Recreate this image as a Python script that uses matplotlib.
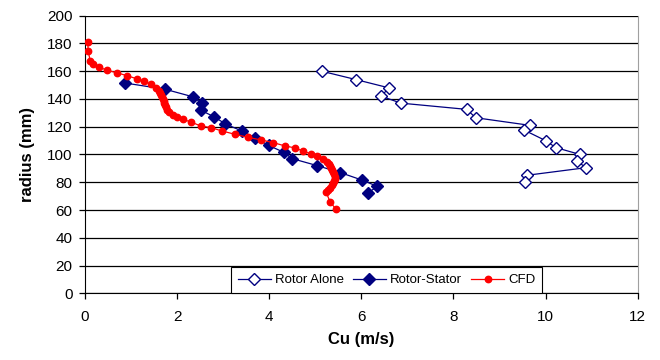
import matplotlib
matplotlib.use("Agg")
import matplotlib.pyplot as plt

plt.rcParams['font.family'] = ['Liberation Sans', 'DejaVu Sans']

# Rotor Alone (open diamonds)
ra_cu = [5.14, 5.88, 6.60, 6.43, 6.86, 8.29, 8.48, 9.66, 9.54, 10.00, 10.22, 10.75, 10.69, 10.88, 9.59, 9.55]
ra_r = [160, 154, 148, 142, 137, 132.5, 126.5, 121, 117.5, 110, 105, 100, 95, 90.5, 85, 80]

# Rotor-Stator (filled diamonds)
rs_cu = [0.87, 1.74, 2.35, 2.53, 2.51, 2.81, 3.05, 3.40, 3.69, 3.99, 4.32, 4.50, 5.04, 5.54, 6.02, 6.35, 6.15]
rs_r = [151.5, 147, 141.5, 137, 132, 127, 122, 117, 112, 106.5, 101.5, 97, 92, 87, 81.5, 77, 72.5]

# CFD (red circles)
cfd_cu = [0.06, 0.07, 0.11, 0.18, 0.30, 0.48, 0.69, 0.91, 1.12, 1.28, 1.43, 1.54, 1.61,
          1.63, 1.66, 1.68, 1.70, 1.71, 1.72, 1.74, 1.76, 1.79, 1.83, 1.92, 2.00, 2.12,
          2.30, 2.51, 2.74, 2.97, 3.25, 3.53, 3.82, 4.08, 4.34, 4.55, 4.74, 4.90, 5.03,
          5.16, 5.25, 5.29, 5.32, 5.35, 5.37, 5.39, 5.41, 5.42, 5.42, 5.41, 5.39, 5.36,
          5.32, 5.28, 5.23, 5.32, 5.45]
cfd_r = [181, 174.6, 167.7, 165.5, 163, 160.7, 158.9, 156.8, 154.6, 152.9, 150.6, 148.2, 145.7,
         144.3, 142.9, 141.3, 139.8, 138.3, 136.9, 135.5, 134, 132.4, 130.8, 128.5, 126.8, 125.4,
         123.4, 120.6, 119.3, 117, 114.6, 112.4, 110.5, 108.6, 106.2, 104.8, 102.4, 100.5, 98.9,
         96.5, 94.4, 93, 91.7, 90.2, 88.8, 87.2, 85.7, 84.1, 82.6, 81, 79.3, 77.7,
         76.1, 74.6, 73.2, 66, 60.5]

x_ticks = [0, 2, 4, 6, 8, 10, 12]
y_ticks = [0, 20, 40, 60, 80, 100, 120, 140, 160, 180, 200]

fig = plt.figure(figsize=(6.6, 3.6), dpi=100)
ax = fig.add_axes([0.1288, 0.1853, 0.9662 - 0.1288, 0.9564 - 0.1853])

navy = '#000080'
ax.plot(ra_cu, ra_r, color=navy, lw=0.9, marker='D', ms=6, mfc='white',
        mec=navy, mew=1.0, label='Rotor Alone', zorder=3)
ax.plot(rs_cu, rs_r, color=navy, lw=0.9, marker='D', ms=6, mfc=navy,
        mec=navy, label='Rotor-Stator', zorder=4)
ax.plot(cfd_cu, cfd_r, color='#ff0000', lw=0.9, marker='o', ms=4.6, mfc='#ff0000',
        mec='#ff0000', label='CFD', zorder=5)

ax.set_xlim(0, 12)
ax.set_ylim(0, 200)
ax.set_xticks(x_ticks)
ax.set_yticks(y_ticks)
ax.tick_params(axis='both', labelsize=11, direction='out', length=4, width=0.9, colors='black')
ax.tick_params(axis='x', pad=8)
ax.tick_params(axis='y', pad=5)
ax.yaxis.grid(True, color='#000000', lw=0.9)
ax.set_axisbelow(True)

ax.spines['top'].set_visible(False)
ax.spines['right'].set_color('#a0a0a0')
ax.spines['left'].set_color('black')
ax.spines['bottom'].set_color('black')

ax.set_xlabel('Cu (m/s)', fontsize=12, fontweight='bold', labelpad=6)
ax.set_ylabel('radius (mm)', fontsize=12, fontweight='bold', labelpad=9)

leg = fig.legend(loc='center', bbox_to_anchor=(0.5856, 0.2222), ncol=3, fontsize=9.5,
                 frameon=True, fancybox=False, edgecolor='#000000', framealpha=1,
                 handlelength=2.5, handletextpad=0.3, columnspacing=0.7,
                 borderpad=0.5)
leg.get_frame().set_linewidth(0.8)

fig.savefig('out.png', dpi=100)
